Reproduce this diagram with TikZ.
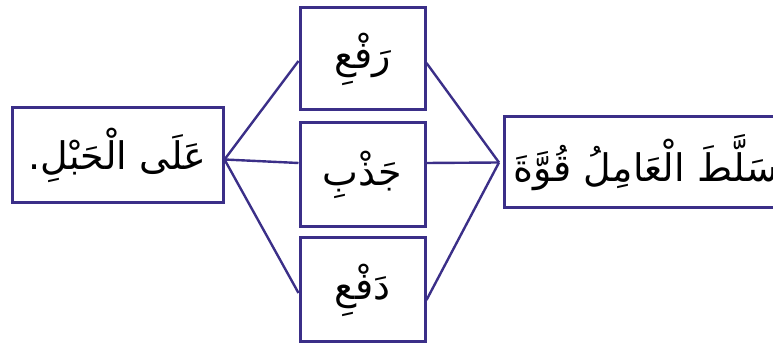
\documentclass[tikz,border=0pt]{standalone}
\usepackage{fontspec}
\TeXXeTstate=1
\newfontfamily\arabicfont[Script=Arabic]{DejaVu Sans}
\definecolor{boxblue}{HTML}{3B2F88}
\tikzset{
  abox/.style={draw=boxblue, line width=3pt, fill=white, inner sep=0pt, font=\arabicfont\fontsize{38}{44}\selectfont},
  link/.style={draw=boxblue, line width=2.4pt}
}
\begin{document}
\begin{tikzpicture}[x=1pt,y=1pt]
\useasboundingbox (0,0) rectangle (773,347);
\clip (0,0) rectangle (773,347);
\node[abox, minimum width=211pt, minimum height=95pt] (L) at (117.5,191.5) {\beginR عَلَى الْحَبْلِ.\endR};
\node[abox, minimum width=125pt, minimum height=102pt] (T) at (362.5,288) {\beginR رَفْعِ\endR};
\node[abox, minimum width=125pt, minimum height=104pt] (M) at (362.5,172) {\beginR جَذْبِ\endR};
\node[abox, minimum width=125pt, minimum height=104pt] (B) at (362.5,57) {\beginR دَفْعِ\endR};
\node[abox, minimum height=91pt, anchor=west, inner xsep=9pt, text width=280pt, align=left] (R) at (503,184.5) {\beginR سَلَّطَ الْعَامِلُ قُوَّةَ\endR};
\coordinate (J) at ([yshift=-4pt]L.east);
\coordinate (K) at ([xshift=-4pt]R.west);
\draw[link] (J) -- ([yshift=-2pt]T.west);
\draw[link] (J) -- ([yshift=12pt]M.west);
\draw[link] (J) -- ([yshift=-3pt]B.west);
\draw[link] ([yshift=-4pt]T.east) -- (K);
\draw[link] ([yshift=12pt]M.east) -- (K);
\draw[link] ([yshift=-10pt]B.east) -- (K);
\end{tikzpicture}
\end{document}
